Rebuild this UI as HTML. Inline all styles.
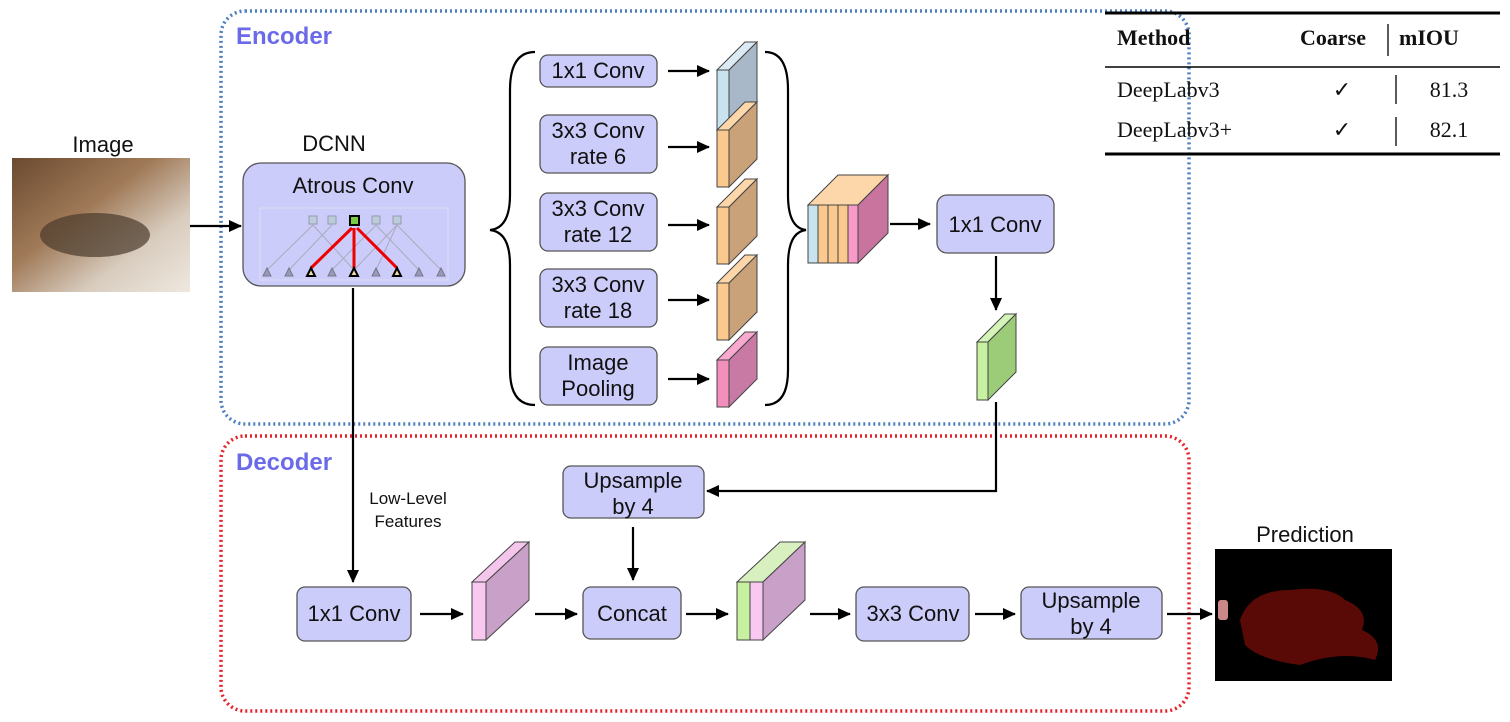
<!DOCTYPE html>
<html><head><meta charset="utf-8"><style>
body{margin:0;background:#fff;}
svg{display:block;font-family:"Liberation Sans",sans-serif;}
.b{fill:#ccccfa;stroke:#555;stroke-width:1.3;}
.t{font-size:22px;fill:#111;text-anchor:middle;}
.ln{stroke:#000;stroke-width:2.2;fill:none;}
.tb{font-family:"Liberation Serif",serif;font-size:22px;fill:#111;}
</style></head><body>
<svg width="1510" height="722" viewBox="0 0 1510 722">
<defs>
<marker id="a" markerWidth="13" markerHeight="12" refX="12" refY="6" orient="auto" markerUnits="userSpaceOnUse"><path d="M0,0 L13,6 L0,12 z" fill="#000"/></marker>
<linearGradient id="img" x1="0" y1="0" x2="1" y2="1"><stop offset="0" stop-color="#6b4a30"/><stop offset="0.4" stop-color="#a07a58"/><stop offset="0.7" stop-color="#d8ccbe"/><stop offset="1" stop-color="#efe8df"/></linearGradient>
</defs>
<rect x="221" y="11" width="968" height="413" rx="24" fill="none" stroke="#4f7fbf" stroke-width="3.5" stroke-dasharray="2,3"/>
<rect x="221" y="436" width="968" height="275" rx="24" fill="none" stroke="#e8222a" stroke-width="3.5" stroke-dasharray="2,3"/>
<text x="236" y="44" font-size="24" font-weight="bold" fill="#6b6bea">Encoder</text>
<text x="236" y="470" font-size="24" font-weight="bold" fill="#6b6bea">Decoder</text>
<text x="103" y="152" class="t">Image</text>
<rect x="12" y="158" width="178" height="134" fill="url(#img)"/>
<ellipse cx="95" cy="235" rx="55" ry="22" fill="#4a3a2c" opacity="0.7"/>
<line x1="190" y1="226" x2="241" y2="226" class="ln" marker-end="url(#a)"/>
<text x="334" y="151" class="t">DCNN</text>
<rect x="243" y="163" width="222" height="123" rx="18" class="b"/>
<text x="353" y="193" class="t">Atrous Conv</text>
<rect x="260" y="208" width="188" height="72" fill="none" stroke="#dde" stroke-width="1"/>
<g fill="#bcd" stroke="#99a">
<rect x="309" y="216" width="8" height="8"/><rect x="328" y="216" width="8" height="8"/><rect x="372" y="216" width="8" height="8"/><rect x="393" y="216" width="8" height="8"/></g>
<rect x="350" y="216" width="9" height="9" fill="#7c4" stroke="#000" stroke-width="2"/>
<g stroke="#aab" stroke-width="1">
<line x1="267" y1="270" x2="313" y2="225"/><line x1="289" y1="270" x2="332" y2="225"/><line x1="332" y1="270" x2="376" y2="225"/><line x1="376" y1="270" x2="397" y2="225"/><line x1="419" y1="270" x2="376" y2="225"/><line x1="441" y1="270" x2="397" y2="225"/><line x1="354" y1="270" x2="313" y2="225"/><line x1="354" y1="270" x2="397" y2="225"/></g>
<g stroke="#e00" stroke-width="3"><line x1="311" y1="268" x2="352" y2="228"/><line x1="354" y1="268" x2="354" y2="228"/><line x1="397" y1="268" x2="357" y2="228"/></g>
<g fill="#99b" stroke="#778"><path d="M263,276 l4,-8 l4,8z"/><path d="M285,276 l4,-8 l4,8z"/><path d="M328,276 l4,-8 l4,8z"/><path d="M372,276 l4,-8 l4,8z"/><path d="M415,276 l4,-8 l4,8z"/><path d="M437,276 l4,-8 l4,8z"/></g>
<g fill="#eda" stroke="#000" stroke-width="2"><path d="M307,276 l4,-8 l4,8z"/><path d="M350,276 l4,-8 l4,8z"/><path d="M393,276 l4,-8 l4,8z"/></g>
<path d="M535,52 Q510,52 510,90 L510,195 Q510,228 490,230 Q510,232 510,265 L510,370 Q510,405 535,405" class="ln"/>
<path d="M765,52 Q788,52 788,90 L788,195 Q788,228 806,230 Q788,232 788,265 L788,370 Q788,405 765,405" class="ln"/>
<rect x="540" y="55" width="117" height="32" rx="8" class="b"/><text x="598" y="78" class="t">1x1 Conv</text>
<rect x="540" y="115" width="117" height="58" rx="8" class="b"/><text x="598" y="138" class="t">3x3 Conv</text><text x="598" y="164" class="t">rate 6</text>
<rect x="540" y="193" width="117" height="58" rx="8" class="b"/><text x="598" y="216" class="t">3x3 Conv</text><text x="598" y="242" class="t">rate 12</text>
<rect x="540" y="269" width="117" height="58" rx="8" class="b"/><text x="598" y="292" class="t">3x3 Conv</text><text x="598" y="318" class="t">rate 18</text>
<rect x="540" y="347" width="117" height="58" rx="8" class="b"/><text x="598" y="370" class="t">Image</text><text x="598" y="396" class="t">Pooling</text>
<g class="ln"><line x1="668" y1="71" x2="709" y2="71" marker-end="url(#a)"/><line x1="668" y1="147" x2="709" y2="147" marker-end="url(#a)"/><line x1="668" y1="225" x2="709" y2="225" marker-end="url(#a)"/><line x1="668" y1="300" x2="709" y2="300" marker-end="url(#a)"/><line x1="668" y1="379" x2="709" y2="379" marker-end="url(#a)"/></g>
<g stroke="#444" stroke-width="1">
<path d="M717,70 L745,42 L757,42 L729,70z" fill="#dbeaf3"/><rect x="717" y="70" width="12" height="67" fill="#c8e2f0"/><path d="M729,70 L757,42 L757,109 L729,137z" fill="#a8b8c8"/>
<path d="M717,130 L745,102 L757,102 L729,130z" fill="#fdd7aa"/><rect x="717" y="130" width="12" height="57" fill="#fbc98e"/><path d="M729,130 L757,102 L757,159 L729,187z" fill="#c9a27a"/>
<path d="M717,207 L745,179 L757,179 L729,207z" fill="#fdd7aa"/><rect x="717" y="207" width="12" height="57" fill="#fbc98e"/><path d="M729,207 L757,179 L757,236 L729,264z" fill="#c9a27a"/>
<path d="M717,283 L745,255 L757,255 L729,283z" fill="#fdd7aa"/><rect x="717" y="283" width="12" height="57" fill="#fbc98e"/><path d="M729,283 L757,255 L757,312 L729,340z" fill="#c9a27a"/>
<path d="M717,360 L745,332 L757,332 L729,360z" fill="#f9a8cf"/><rect x="717" y="360" width="12" height="47" fill="#f28fbd"/><path d="M729,360 L757,332 L757,379 L729,407z" fill="#c97aa4"/>
<path d="M808,205 L838,175 L888,175 L858,205z" fill="#fdd7aa"/>
<rect x="808" y="205" width="10" height="58" fill="#c8e2f0"/><rect x="818" y="205" width="10" height="58" fill="#fbc98e"/><rect x="828" y="205" width="10" height="58" fill="#fbc98e"/><rect x="838" y="205" width="10" height="58" fill="#fbc98e"/>
<rect x="848" y="205" width="10" height="58" fill="#f79ac8"/><path d="M858,205 L888,175 L888,233 L858,263z" fill="#c8749e"/>
<path d="M977,342 L1005,314 L1016,314 L988,342z" fill="#d5f5b8"/><rect x="977" y="342" width="11" height="58" fill="#c7f0a0"/><path d="M988,342 L1016,314 L1016,372 L988,400z" fill="#9ccc78"/>
<path d="M472,582 L515,542 L529,542 L486,582z" fill="#f4c6ec"/><rect x="472" y="582" width="14" height="58" fill="#f8c8f0"/><path d="M486,582 L529,542 L529,600 L486,640z" fill="#c8a0c8"/>
<path d="M737,582 L780,542 L805,542 L763,582z" fill="#d8f0c0"/><rect x="737" y="582" width="13" height="58" fill="#c7f0a0"/><rect x="750" y="582" width="13" height="58" fill="#f8c8f0"/><path d="M763,582 L805,542 L805,600 L763,640z" fill="#c8a0c8"/>
</g>
<line x1="890" y1="224" x2="930" y2="224" class="ln" marker-end="url(#a)"/>
<rect x="937" y="195" width="117" height="58" rx="10" class="b"/><text x="995" y="232" class="t">1x1 Conv</text>
<line x1="996" y1="256" x2="996" y2="310" class="ln" marker-end="url(#a)"/>
<path d="M996,402 L996,491 L707,491" class="ln" marker-end="url(#a)"/>
<rect x="563" y="466" width="141" height="52" rx="8" class="b"/><text x="633" y="488" class="t">Upsample</text><text x="633" y="514" class="t">by 4</text>
<line x1="633" y1="527" x2="633" y2="580" class="ln" marker-end="url(#a)"/>
<line x1="353" y1="288" x2="353" y2="582" class="ln" marker-end="url(#a)"/>
<text x="408" y="504" font-size="17" text-anchor="middle" fill="#111">Low-Level</text>
<text x="408" y="527" font-size="17" text-anchor="middle" fill="#111">Features</text>
<rect x="297" y="587" width="114" height="54" rx="8" class="b"/><text x="354" y="621" class="t">1x1 Conv</text>
<rect x="583" y="587" width="98" height="52" rx="8" class="b"/><text x="632" y="621" class="t">Concat</text>
<rect x="856" y="587" width="113" height="54" rx="8" class="b"/><text x="913" y="621" class="t">3x3 Conv</text>
<rect x="1021" y="587" width="141" height="52" rx="8" class="b"/><text x="1091" y="608" class="t">Upsample</text><text x="1091" y="634" class="t">by 4</text>
<g class="ln"><line x1="420" y1="614" x2="463" y2="614" marker-end="url(#a)"/><line x1="535" y1="614" x2="577" y2="614" marker-end="url(#a)"/><line x1="686" y1="614" x2="728" y2="614" marker-end="url(#a)"/><line x1="810" y1="614" x2="850" y2="614" marker-end="url(#a)"/><line x1="975" y1="614" x2="1015" y2="614" marker-end="url(#a)"/><line x1="1167" y1="614" x2="1212" y2="614" marker-end="url(#a)"/></g>
<text x="1305" y="542" class="t">Prediction</text>
<rect x="1215" y="549" width="177" height="132" fill="#000"/>
<path d="M1240,620 Q1250,590 1290,590 Q1330,585 1345,600 Q1370,610 1362,630 Q1385,640 1375,660 Q1340,650 1300,665 Q1260,660 1245,645z" fill="#5a0a06"/>
<rect x="1218" y="600" width="10" height="20" fill="#c88" rx="3"/>
<line x1="1105" y1="13" x2="1500" y2="13" stroke="#000" stroke-width="3"/>
<line x1="1105" y1="67" x2="1500" y2="67" stroke="#000" stroke-width="1.5"/>
<line x1="1105" y1="154" x2="1500" y2="154" stroke="#000" stroke-width="3"/>
<text x="1117" y="45" class="tb" font-weight="bold" font-size="23">Method</text>
<text x="1300" y="45" class="tb" font-weight="bold" font-size="23">Coarse</text>
<text x="1399" y="45" class="tb" font-weight="bold" font-size="23">mIOU</text>
<line x1="1388" y1="24" x2="1388" y2="56" stroke="#000" stroke-width="1.3"/>
<text x="1117" y="97" class="tb">DeepLabv3</text><text x="1342" y="97" class="tb" text-anchor="middle">✓</text><text x="1449" y="97" class="tb" text-anchor="middle">81.3</text>
<text x="1117" y="137" class="tb">DeepLabv3+</text><text x="1342" y="137" class="tb" text-anchor="middle">✓</text><text x="1449" y="137" class="tb" text-anchor="middle">82.1</text>
<line x1="1396" y1="75" x2="1396" y2="104" stroke="#000" stroke-width="1.3"/>
<line x1="1396" y1="117" x2="1396" y2="146" stroke="#000" stroke-width="1.3"/>
</svg>
</body></html>
